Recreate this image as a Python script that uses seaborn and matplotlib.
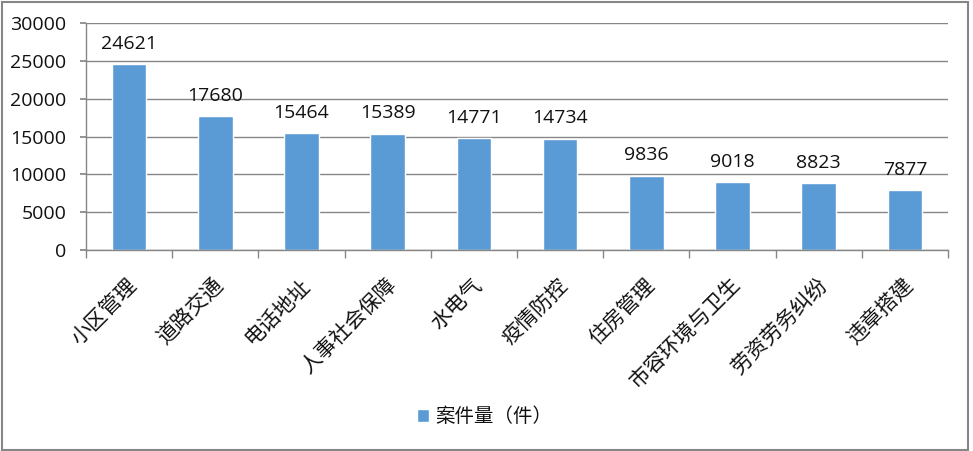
import matplotlib
matplotlib.use("Agg")
import matplotlib.pyplot as plt
import matplotlib.transforms as mtransforms
import seaborn as sns
import pandas as pd
from matplotlib.patches import Rectangle

categories = ["小区管理", "道路交通", "电话地址", "人事社会保障", "水电气",
              "疫情防控", "住房管理", "市容环境与卫生", "劳资劳务纠纷", "违章搭建"]
values = [24621, 17680, 15464, 15389, 14771, 14734, 9836, 9018, 8823, 7877]
series_name = "案件量（件）"
y_ticks = [0, 5000, 10000, 15000, 20000, 25000, 30000]

sns.set_theme(style="white")
plt.rcParams['font.family'] = ['Noto Sans CJK SC', 'DejaVu Sans']

df = pd.DataFrame({"cat": categories, "val": values, "series": series_name})

fig = plt.figure(figsize=(9.73, 4.51), dpi=100)
ax = fig.add_axes([86/973, 1-250/451, (948-86)/973, (250-23)/451])

sns.barplot(data=df, x="cat", y="val", hue="series", palette=["#5B9BD5"],
            width=0.4, saturation=1, ax=ax, legend=True)

num_font = ['Open Sans', 'DejaVu Sans']
txt_color = '#111111'

ax.set_xlim(-0.5, len(categories)-0.5)
ax.set_ylim(0, 30000)
ax.set_yticks(y_ticks)
ax.set_yticklabels([str(t) for t in y_ticks], fontsize=14, family=num_font, color=txt_color)
ax.set_xlabel("")
ax.set_ylabel("")
ax.grid(axis='y', color='#868686', linewidth=1)
ax.set_axisbelow(True)
for s in ['top', 'right']:
    ax.spines[s].set_visible(False)
for s in ['left', 'bottom']:
    ax.spines[s].set_color('#868686')
    ax.spines[s].set_linewidth(1)

ax.tick_params(axis='y', which='major', left=True, length=4, color='#868686', pad=10)
ax.set_xticks(range(len(categories)))
ax.set_xticklabels(categories, rotation=45, ha='right', va='center', rotation_mode='anchor',
                   fontsize=15, color=txt_color)
ax.tick_params(axis='x', which='major', bottom=False, pad=17)
ax.set_xticks([i - 0.5 for i in range(len(categories)+1)], minor=True)
ax.tick_params(axis='x', which='minor', bottom=True, length=6, color='#868686', width=1)
for lbl in ax.get_xticklabels():
    lbl.set_transform(lbl.get_transform() + mtransforms.ScaledTranslation(5/100, 0, fig.dpi_scale_trans))

for container in ax.containers:
    ax.bar_label(container, labels=[str(v) for v in values], padding=8, fontsize=14,
                 family=num_font, color=txt_color)

leg = ax.legend(loc='center', bbox_to_anchor=((485-86)/862, 1-(417-23)/227), frameon=False,
                fontsize=14, handlelength=0.6, handleheight=0.6, handletextpad=0.35,
                bbox_transform=ax.transAxes)
for t in leg.get_texts():
    t.set_color(txt_color)

fig.patches.append(Rectangle((0.002, 0.003), 0.993, 0.993, transform=fig.transFigure,
                             fill=False, edgecolor='#868686', linewidth=1.5))

fig.savefig("out.png", dpi=100)
